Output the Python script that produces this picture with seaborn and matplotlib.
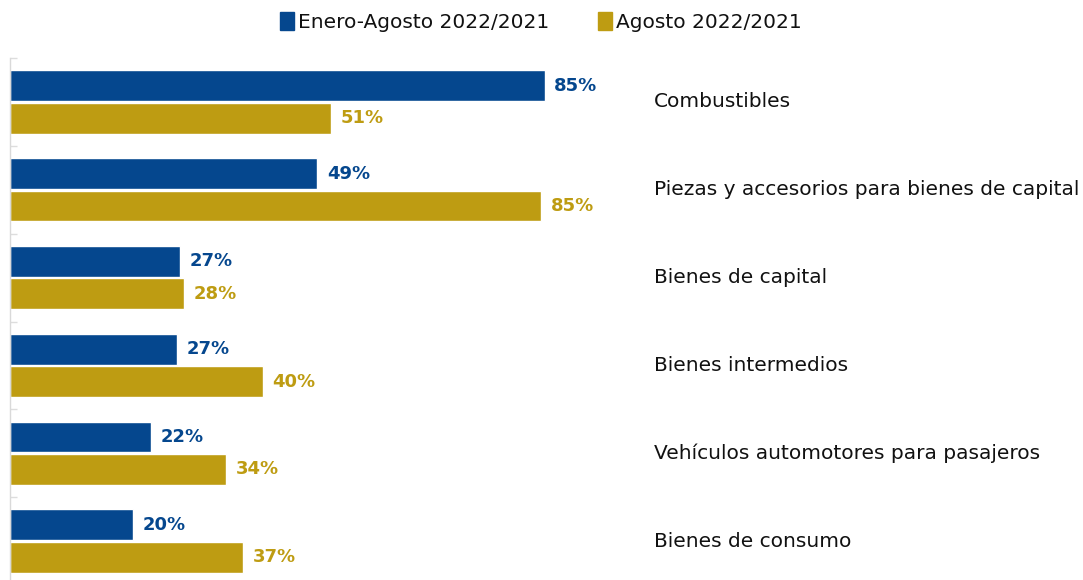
import pandas as pd
import matplotlib.pyplot as plt
import matplotlib.ticker as ticker
import seaborn as sns

# =========================
# datos
# =========================
categorias = [
    "Combustibles",
    "Piezas y accesorios para bienes de capital",
    "Bienes de capital",
    "Bienes intermedios",
    "Vehículos automotores para pasajeros",
    "Bienes de consumo",
]
series = ["Enero-Agosto 2022/2021", "Agosto 2022/2021"]
ene_ago = [85.2, 49.0, 27.1, 26.6, 22.4, 19.6]
agosto = [51.1, 84.6, 27.7, 40.3, 34.4, 37.1]

color_azul = "#05478e"
color_oro = "#be9c12"

df = pd.DataFrame({
    "categoria": categorias * 2,
    "serie": [series[0]] * len(categorias) + [series[1]] * len(categorias),
    "valor": ene_ago + agosto,
})

sns.set_style("white")
plt.rcParams["font.family"] = ["DejaVu Sans"]
plt.rcParams["text.color"] = "#111111"

fig = plt.figure(figsize=(10.83, 5.8), dpi=100)
ax = fig.add_axes([10 / 1083, -5 / 580, 640 / 1083, 527 / 580])

sns.barplot(
    data=df, x="valor", y="categoria", hue="serie", orient="h",
    order=categorias, hue_order=series,
    palette=[color_azul, color_oro], saturation=1,
    width=0.74, gap=0.05, legend=False, ax=ax,
)

# etiquetas de valor
for cont, col in zip(ax.containers, [color_azul, color_oro]):
    ax.bar_label(cont, labels=[f"{b.get_width():.0f}%" for b in cont],
                 padding=7, color=col, fontsize=13, fontweight="bold")

ax.set_xlim(0, 102)
ax.set_ylim(5.5, -0.5)
ax.set_xlabel("")
ax.set_ylabel("")
ax.set_xticks([])

# categorías a la derecha
ax.yaxis.tick_right()
ax.tick_params(axis="y", which="major", length=0, pad=3, labelsize=14.5,
               labelcolor="#111111", right=True, left=False,
               labelright=True, labelleft=False)
for lbl in ax.get_yticklabels():
    lbl.set_verticalalignment("center")
ax.yaxis.set_minor_locator(ticker.FixedLocator([i - 0.5 for i in range(len(categorias) + 1)]))
ax.tick_params(axis="y", which="minor", left=True, right=False, direction="in",
               length=5, width=1, color="#dddddd")

for s in ["top", "right", "bottom"]:
    ax.spines[s].set_visible(False)
ax.spines["left"].set_color("#d9d9d9")
ax.spines["left"].set_linewidth(1)

# leyenda
handles = [plt.Rectangle((0, 0), 1, 1, color=c) for c in [color_azul, color_oro]]
fig.legend(handles, series, loc="center", bbox_to_anchor=(541 / 1083, 1 - 22 / 580),
           ncol=2, frameon=False, fontsize=14.5, handlelength=0.7, handleheight=1.0,
           handletextpad=0.2, columnspacing=2.4)

plt.savefig("out.png", dpi=100)
